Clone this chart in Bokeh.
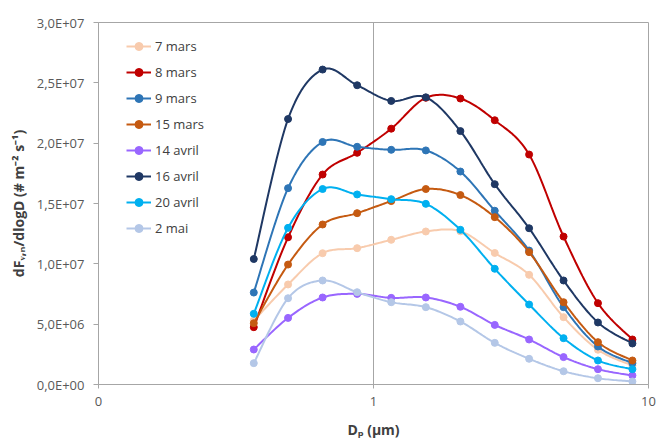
import numpy as np
from bokeh.plotting import figure
from bokeh.models import FixedTicker, CustomJSTickFormatter, Range1d, Legend, LegendItem
from bokeh.embed import file_html
from bokeh.resources import INLINE

# ---------------- data ----------------
diameters = [0.367, 0.489, 0.653, 0.872, 1.16, 1.55, 2.07, 2.76, 3.68, 4.91, 6.55, 8.74]

mars_7 = [5.3e6, 8.29e6, 10.88e6, 11.3e6, 11.99e6, 12.68e6, 12.7e6, 10.9e6, 9.09e6, 5.58e6, 2.88e6, 1.57e6]
mars_8 = [4.75e6, 12.2e6, 17.4e6, 19.2e6, 21.2e6, 23.76e6, 23.7e6, 21.9e6, 19.06e6, 12.26e6, 6.74e6, 3.73e6]
mars_9 = [7.62e6, 16.27e6, 20.1e6, 19.7e6, 19.45e6, 19.4e6, 17.65e6, 14.4e6, 11.1e6, 6.41e6, 3.15e6, 1.77e6]
mars_15 = [5.08e6, 9.94e6, 13.26e6, 14.2e6, 15.2e6, 16.2e6, 15.7e6, 13.87e6, 10.97e6, 6.82e6, 3.51e6, 1.99e6]
avril_14 = [2.9e6, 5.52e6, 7.21e6, 7.51e6, 7.18e6, 7.21e6, 6.44e6, 4.94e6, 3.73e6, 2.27e6, 1.27e6, 0.75e6]
avril_16 = [10.4e6, 22.0e6, 26.1e6, 24.8e6, 23.5e6, 23.8e6, 21.0e6, 16.6e6, 12.95e6, 8.62e6, 5.14e6, 3.40e6]
avril_20 = [5.86e6, 12.98e6, 16.2e6, 15.75e6, 15.36e6, 14.97e6, 12.82e6, 9.59e6, 6.63e6, 3.84e6, 1.99e6, 1.27e6]
mai_2 = [1.77e6, 7.15e6, 8.62e6, 7.65e6, 6.82e6, 6.41e6, 5.22e6, 3.45e6, 2.13e6, 1.10e6, 0.52e6, 0.25e6]

series_names = ["7 mars", "8 mars", "9 mars", "15 mars", "14 avril", "16 avril", "20 avril", "2 mai"]
series_values = [mars_7, mars_8, mars_9, mars_15, avril_14, avril_16, avril_20, mai_2]
series_colors = ["#F8CBAD", "#C00000", "#2E75B6", "#C55A11", "#9966FF", "#1F3864", "#00B0F0", "#B4C7E7"]

x_ticks = [0.1, 1, 10]
x_tick_labels = ["0", "1", "10"]
y_ticks = [0, 5e6, 10e6, 15e6, 20e6, 25e6, 30e6]

FONT = "Open Sans"


def smooth(xs, ys, n=20):
    """Excel-like smoothed line: uniform Catmull-Rom through the points (log-x space)."""
    lx = np.log10(np.asarray(xs, float))
    yy = np.asarray(ys, float)
    P = np.column_stack([lx, yy])
    out = []
    m = len(P)
    for i in range(m - 1):
        p0 = P[i - 1] if i > 0 else P[i]
        p1 = P[i]
        p2 = P[i + 1]
        p3 = P[i + 2] if i + 2 < m else P[i + 1]
        for t in np.linspace(0, 1, n, endpoint=False):
            t2, t3 = t * t, t * t * t
            pt = 0.5 * ((2 * p1) + (-p0 + p2) * t + (2 * p0 - 5 * p1 + 4 * p2 - p3) * t2
                        + (-p0 + 3 * p1 - 3 * p2 + p3) * t3)
            out.append(pt)
    out.append(P[-1])
    out = np.array(out)
    return 10 ** out[:, 0], out[:, 1]


p = figure(width=657, height=441, x_axis_type="log",
           x_range=Range1d(0.1, 10), y_range=Range1d(0, 3e7),
           output_backend="svg", toolbar_location=None,
           min_border_left=98, min_border_right=9, min_border_top=22, min_border_bottom=57)

p.outline_line_color = "#A6A6A6"
p.outline_line_width = 1
p.background_fill_color = "white"
p.border_fill_color = "white"

# grid: only vertical lines at major decades
p.ygrid.visible = False
p.xgrid.ticker = FixedTicker(ticks=x_ticks)
p.xgrid.grid_line_color = "#A6A6A6"
p.xgrid.grid_line_width = 1

# x axis
p.xaxis.ticker = FixedTicker(ticks=x_ticks)
p.xaxis.minor_tick_line_color = None
p.xaxis.major_label_overrides = {0.1: x_tick_labels[0], 1: x_tick_labels[1], 10: x_tick_labels[2]}
p.xaxis.axis_line_color = "#A6A6A6"
p.xaxis.major_tick_line_color = "#A6A6A6"
p.xaxis.major_tick_out = 4
p.xaxis.major_tick_in = 0
p.xaxis.major_label_text_font = FONT
p.xaxis.major_label_text_font_size = "13px"
p.xaxis.major_label_text_color = "#595959"
p.xaxis.major_label_standoff = 8
p.xaxis.axis_label = "Dₚ (µm)"
p.xaxis.axis_label_text_font = FONT
p.xaxis.axis_label_text_font_style = "bold"
p.xaxis.axis_label_text_font_size = "14px"
p.xaxis.axis_label_text_color = "#404040"
p.xaxis.axis_label_standoff = 11

# y axis
p.yaxis.ticker = FixedTicker(ticks=y_ticks)
p.yaxis.minor_tick_line_color = None
p.yaxis.formatter = CustomJSTickFormatter(code="""
    const s = tick.toExponential(1);
    const parts = s.split('e');
    const sign = parts[1][0];
    const d = parts[1].slice(1).padStart(2, '0');
    return parts[0].replace('.', ',') + 'E' + sign + d;
""")
p.yaxis.axis_line_color = "#A6A6A6"
p.yaxis.major_tick_line_color = "#A6A6A6"
p.yaxis.major_tick_out = 5
p.yaxis.major_tick_in = 0
p.yaxis.major_label_text_font = FONT
p.yaxis.major_label_text_font_size = "13px"
p.yaxis.major_label_text_color = "#595959"
p.yaxis.major_label_standoff = 9
p.yaxis.axis_label = "dFᵥ,ₙ/dlogD (# m⁻² s⁻¹)"
p.yaxis.axis_label_text_font = FONT
p.yaxis.axis_label_text_font_style = "bold"
p.yaxis.axis_label_text_font_size = "14px"
p.yaxis.axis_label_text_color = "#404040"
p.yaxis.axis_label_standoff = 6

items = []
for name, vals, col in zip(series_names, series_values, series_colors):
    sx, sy = smooth(diameters, vals)
    r1 = p.line(sx, sy, line_color=col, line_width=2)
    r2 = p.scatter(diameters, vals, size=7, fill_color=col, line_color=col)
    items.append(LegendItem(label=name, renderers=[r1, r2]))

legend = Legend(items=items, location=(23, 141), orientation="vertical",
                glyph_width=25, glyph_height=20, label_height=20, spacing=6,
                padding=5, margin=0, label_standoff=4,
                label_text_font=FONT, label_text_font_size="13px",
                label_text_color="#404040",
                background_fill_alpha=0, border_line_alpha=0)
p.add_layout(legend, "center")

open("out.html", "w").write(file_html(p, INLINE))
